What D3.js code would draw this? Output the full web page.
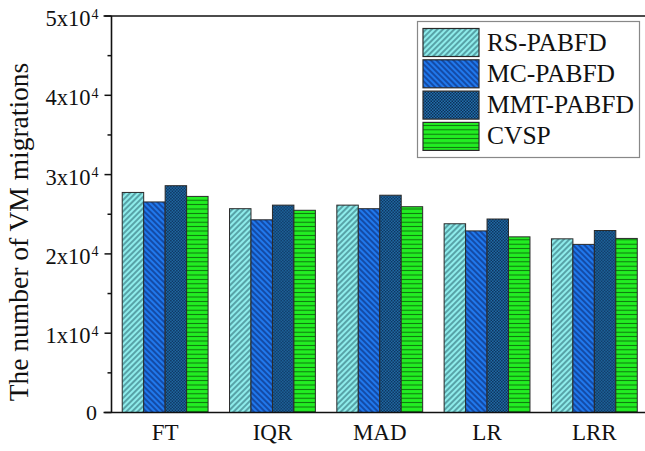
<!DOCTYPE html>
<html>
<head>
<meta charset="utf-8">
<script src="https://cdn.jsdelivr.net/npm/d3@7"></script>
<style>
  html, body { margin: 0; padding: 0; background: #fff; }
  svg { display: block; }
  text { font-family: "Liberation Serif", "Times New Roman", serif; fill: #111; }
</style>
</head>
<body>
<svg id="chart" width="645" height="451"></svg>
<script>
const categories = ["FT", "IQR", "MAD", "LR", "LRR"];
const seriesNames = ["RS-PABFD", "MC-PABFD", "MMT-PABFD", "CVSP"];
const rsPabfd  = [27750, 25700, 26150, 23800, 21900];
const mcPabfd  = [26550, 24300, 25700, 22900, 21200];
const mmtPabfd = [28600, 26150, 27400, 24400, 22950];
const cvsp     = [27250, 25500, 25950, 22150, 21950];
const seriesValues = [rsPabfd, mcPabfd, mmtPabfd, cvsp];
const yMajorTicks = [0, 10000, 20000, 30000, 40000, 50000];
const yMinorTicks = [5000, 15000, 25000, 35000, 45000];
const yTickLabels = ["0", "1x10", "2x10", "3x10", "4x10", "5x10"];
const yTickExponents = ["", "4", "4", "4", "4", "4"];
const yTitle = "The number of VM migrations";

const svg = d3.select("#chart");
const mLeft = 111.5, mBottom = 412.5, mTop = 16, mRight = 648;

const y = d3.scaleLinear().domain([0, 50000]).range([mBottom, mTop]);
const x0 = d3.scaleBand().domain(categories).range([mLeft, mRight]).paddingInner(0.2).paddingOuter(0.1);
const x1 = d3.scaleBand().domain(seriesNames).range([0, x0.bandwidth()]).padding(0);

// patterns
const defs = svg.append("defs");
function linePattern(id, bg, fg, size, angle, sw) {
  const p = defs.append("pattern").attr("id", id).attr("patternUnits", "userSpaceOnUse")
    .attr("width", size).attr("height", size).attr("patternTransform", `rotate(${angle})`);
  p.append("rect").attr("width", size).attr("height", size).attr("fill", bg);
  p.append("line").attr("x1", size / 2).attr("y1", 0).attr("x2", size / 2).attr("y2", size)
    .attr("stroke", fg).attr("stroke-width", sw);
}
linePattern("pRS", "#8eeceb", "#2a6670", 4, 45, 1.1);
linePattern("pMC", "#2078ec", "#0b2c78", 4, -45, 1.2);
linePattern("pCV", "#22ee22", "#0e700e", 4.4, 90, 1.0);
const pm = defs.append("pattern").attr("id", "pMMT").attr("patternUnits", "userSpaceOnUse")
  .attr("width", 3).attr("height", 3);
pm.append("rect").attr("width", 3).attr("height", 3).attr("fill", "#2270ac");
pm.append("rect").attr("width", 1.5).attr("height", 1.5).attr("fill", "#0c2f58");
pm.append("rect").attr("x", 1.5).attr("y", 1.5).attr("width", 1.5).attr("height", 1.5).attr("fill", "#0c2f58");
const fills = ["url(#pRS)", "url(#pMC)", "url(#pMMT)", "url(#pCV)"];

// bars
const groups = svg.append("g").selectAll("g").data(categories).join("g")
  .attr("transform", d => `translate(${x0(d)},0)`);
groups.selectAll("rect")
  .data((c, ci) => seriesNames.map((s, si) => ({ s, si, v: seriesValues[si][ci] })))
  .join("rect")
  .attr("x", d => x1(d.s))
  .attr("y", d => y(d.v))
  .attr("width", x1.bandwidth())
  .attr("height", d => mBottom - y(d.v))
  .attr("fill", d => fills[d.si])
  .attr("stroke", "#2a2a2a")
  .attr("stroke-width", 1);

// frame
svg.append("line").attr("x1", mLeft).attr("x2", mLeft).attr("y1", mTop).attr("y2", mBottom)
  .attr("stroke", "#111").attr("stroke-width", 1.6);
svg.append("line").attr("x1", mLeft - 8).attr("x2", 645).attr("y1", mBottom).attr("y2", mBottom)
  .attr("stroke", "#111").attr("stroke-width", 1.6);
svg.append("line").attr("x1", mLeft - 8).attr("x2", 645).attr("y1", mTop).attr("y2", mTop)
  .attr("stroke", "#111").attr("stroke-width", 1.6);

// y ticks
svg.append("g").selectAll("line").data(yMajorTicks).join("line")
  .attr("x1", mLeft - 7).attr("x2", mLeft).attr("y1", d => y(d)).attr("y2", d => y(d))
  .attr("stroke", "#111").attr("stroke-width", 1.5);
svg.append("g").selectAll("line").data(yMinorTicks).join("line")
  .attr("x1", mLeft - 4).attr("x2", mLeft).attr("y1", d => y(d)).attr("y2", d => y(d))
  .attr("stroke", "#111").attr("stroke-width", 1.5);

// y tick labels
const yl = svg.append("g");
yMajorTicks.forEach((t, i) => {
  if (yTickExponents[i] === "") {
    yl.append("text").attr("x", 97).attr("y", y(t) + 7.5).attr("text-anchor", "end")
      .attr("font-size", 22).text(yTickLabels[i]);
  } else {
    yl.append("text").attr("x", 90.5).attr("y", y(t) + 10).attr("text-anchor", "end")
      .attr("font-size", 22.5).text(yTickLabels[i]);
    yl.append("text").attr("x", 91.5).attr("y", y(t) + 2.5).attr("text-anchor", "start")
      .attr("font-size", 14).text(yTickExponents[i]);
  }
});

// x labels
svg.append("g").selectAll("text").data(categories).join("text")
  .attr("x", d => x0(d) + x0.bandwidth() / 2).attr("y", 440)
  .attr("text-anchor", "middle").attr("font-size", 23).text(d => d);

// y title
svg.append("text").attr("transform", "translate(28,232) rotate(-90)")
  .attr("text-anchor", "middle").attr("font-size", 27.5).text(yTitle);

// legend
const lg = svg.append("g");
lg.append("rect").attr("x", 417.5).attr("y", 21.5).attr("width", 222).attr("height", 136)
  .attr("fill", "#fff").attr("stroke", "#888").attr("stroke-width", 1.2);
seriesNames.forEach((s, i) => {
  const ry = 28.5 + i * 31.3;
  lg.append("rect").attr("x", 423).attr("y", ry).attr("width", 56).attr("height", 28)
    .attr("fill", fills[i]).attr("stroke", "#2a2a2a").attr("stroke-width", 1.2);
  lg.append("text").attr("x", 487).attr("y", ry + 22).attr("font-size", 25.5).text(s);
});
</script>
</body>
</html>
